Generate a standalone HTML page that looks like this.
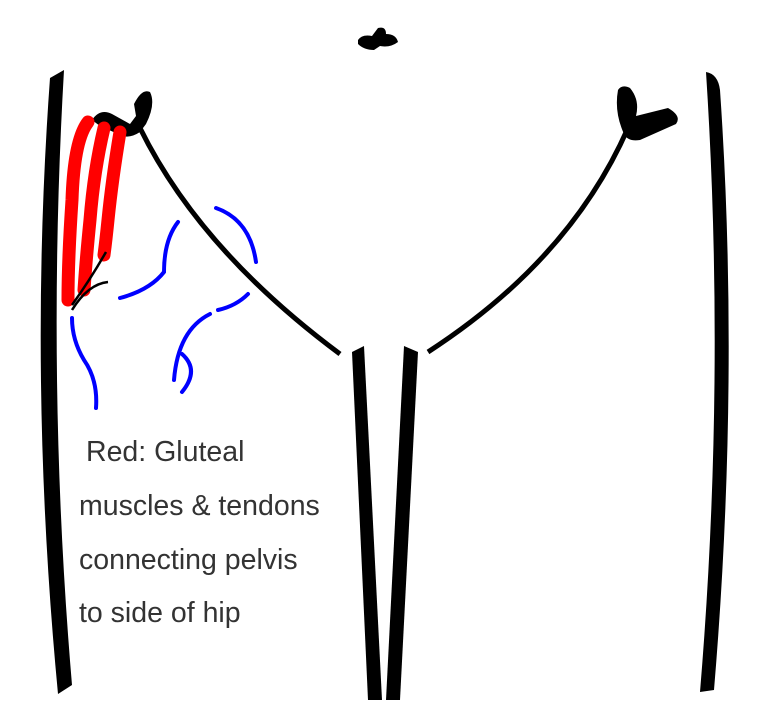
<!DOCTYPE html>
<html><head><style>
html,body{margin:0;padding:0;background:#fff;width:768px;height:705px;overflow:hidden}
svg{display:block}
text{font-family:"Liberation Sans",Arial,sans-serif;font-size:28.5px;fill:#333}
</style></head><body>
<svg width="768" height="705" viewBox="0 0 768 705" xmlns="http://www.w3.org/2000/svg">
<path d="M50,78 L64,70 Q46,380 72,685 L58,694 Q28,380 50,78 Z" fill="#000"/>
<path d="M706,72 Q718,74 720,90 Q740,380 714,690 L700,692 Q726,380 706,72 Z" fill="#000"/>
<path d="M358,40 Q362,34 372,36 L378,28 Q386,26 386,34 Q396,34 398,42 Q390,48 380,46 L374,50 Q364,50 358,44 Z" fill="#000"/>
<path d="M92,120 Q100,108 112,114 L130,124 L136,116 L134,104 Q142,88 150,92 Q156,104 146,124 L140,132 Q128,140 118,134 L100,126 Z" fill="#000"/>
<path d="M140,128 Q200,250 340,354" fill="none" stroke="#000" stroke-width="5"/>
<path d="M618,90 Q622,84 630,88 Q640,100 636,116 L668,108 Q682,116 676,124 L640,140 Q628,142 624,134 Q614,112 618,90 Z" fill="#000"/>
<path d="M628,128 Q570,260 428,352" fill="none" stroke="#000" stroke-width="5"/>
<polygon points="352,352 364,346 382,700 368,700" fill="#000"/>
<polygon points="404,346 418,352 400,700 386,700" fill="#000"/>
<g fill="none" stroke="#f00" stroke-width="13" stroke-linecap="round">
<path d="M88,122 Q74,140 72,200 Q68,260 68,300"/>
<path d="M104,128 Q94,170 90,220 Q86,260 84,290"/>
<path d="M120,132 Q112,180 108,220 Q106,240 104,255"/>
</g>
<g fill="none" stroke="#000" stroke-width="2.5">
<path d="M106,252 Q90,280 72,305"/>
<path d="M108,282 Q88,284 72,310"/>
</g>
<g fill="none" stroke="#00f" stroke-width="4" stroke-linecap="round">
<path d="M72,318 Q72,340 84,360 Q98,380 96,408"/>
<path d="M120,298 Q150,290 164,272 Q164,240 178,222"/>
<path d="M216,208 Q250,220 256,262"/>
<path d="M248,294 Q236,306 218,310"/>
<path d="M210,314 Q178,330 174,380"/>
<path d="M182,354 Q200,370 182,392"/>
</g>
<text x="86" y="461">Red: Gluteal</text>
<text x="79" y="515">muscles &amp; tendons</text>
<text x="79" y="569">connecting pelvis</text>
<text x="79" y="622">to side of hip</text>
</svg>
</body></html>
